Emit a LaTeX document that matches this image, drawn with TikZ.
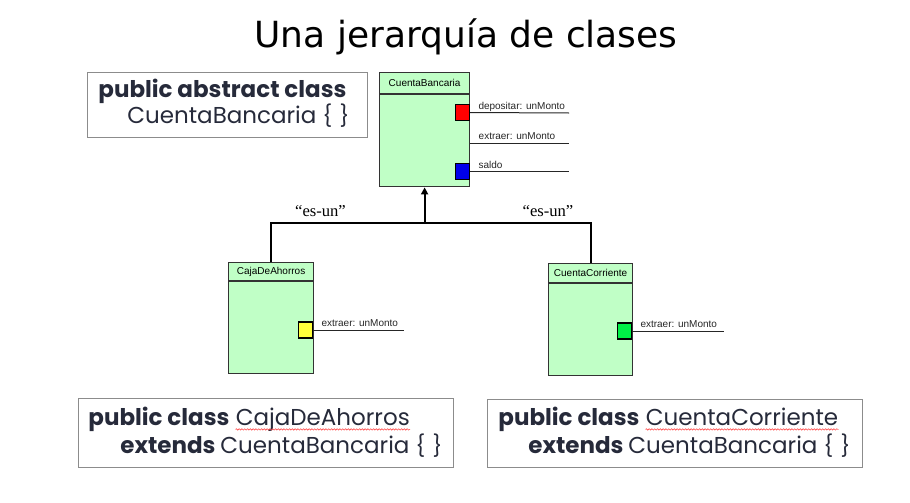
\documentclass[tikz,border=0pt]{standalone}
\usepackage{fontspec}
\setmainfont{Liberation Sans}
\newfontfamily\codefont{Poppins}
\newfontfamily\titlefont{DejaVu Sans}
\newfontfamily\quotefont{Liberation Serif}
\usetikzlibrary{positioning, arrows.meta, decorations.pathmorphing}
\definecolor{umlgreen}{RGB}{192,255,198}
\definecolor{codeink}{RGB}{38,42,58}
\definecolor{boxgray}{RGB}{140,140,140}
\newcommand{\emptybody}{{\fontsize{10.5}{12}\selectfont\{\hspace{0.35em}\}}}
\tikzset{
	umlhead/.style = {draw=black!80, fill=umlgreen, line width=0.6pt, minimum width=#1,
	 minimum height=10pt, inner sep=0, font=\fontsize{5}{6}\selectfont},
	umlbody/.style = {draw=black!80, fill=umlgreen, line width=0.6pt, minimum width=#1,
	 minimum height=46pt, inner sep=0},
	port/.style = {draw=black, line width=0.6pt, minimum width=7pt, minimum height=8pt,
	 inner sep=0, anchor=east},
	portline/.style = {line width=0.5pt, black!85},
	portlbl/.style = {pos=0, anchor=base west, xshift=4pt, yshift=1.6pt, inner sep=0,
	 font=\fontsize{5}{6}\selectfont},
	isa/.style = {line width=0.9pt, black},
	isalbl/.style = {anchor=base, inner sep=0, font=\quotefont\fontsize{8.3}{10}\selectfont},
	codebox/.style = {draw=boxgray, line width=0.7pt, anchor=north west, inner sep=0},
	codetxt/.style = {anchor=base west, inner sep=0, text=codeink,
	 font=\codefont\fontsize{11.5}{14}\selectfont},
	spell/.style = {red!70, line width=0.3pt,
	 decorate, decoration={snake, amplitude=0.35pt, segment length=1.4pt}}
}

\begin{document}
\begin{tikzpicture}[x=0.5pt, y=-0.5pt]
\useasboundingbox (0,0) rectangle (910,503);

% TITLE
\node (title) [anchor=base, inner sep=0, font=\titlefont\fontsize{18}{22}\selectfont] at (466,47) {Una jerarquía de clases};

% CLASSES
% base class
\node (cbhead) [umlhead=45pt, minimum height=10.5pt, anchor=north west] at (379,72) {CuentaBancaria};
\node (cb) [umlbody=45pt, below=0pt of cbhead] {};
\node (cbdep) [port, fill=red] at (470,112.5) {};
\node (cbsal) [port, fill={rgb,255:red,0;green,0;blue,235}] at (470,171.5) {};
\coordinate (cbdepend) at (569,113);
\coordinate (cbextend) at (569,143);
\coordinate (cbsalend) at (569,171.5);
% savings account
\node (cahhead) [umlhead=42.5pt, minimum height=9pt, anchor=north west] at (228,262) {CajaDeAhorros};
\node (cah) [umlbody=42.5pt, below=0pt of cahhead] {};
\node (cahext) [port, fill={rgb,255:red,255;green,255;blue,60}] at (313,330) {};
\coordinate (cahextend) at (404,330);
% current account
\node (cchead) [umlhead=42pt, minimum height=9.5pt, anchor=north west] at (548,263) {CuentaCorriente};
\node (cc) [umlbody=42pt, below=0pt of cchead] {};
\node (ccext) [port, fill={rgb,255:red,0;green,240;blue,70}] at (632,331) {};
\coordinate (ccextend) at (724,331);

% CODE BOXES
\node (cbcode) [codebox, minimum width=140pt, minimum height=32.5pt] at (87,72) {};
\node (cbl1) [codetxt] at (98,97) {\bfseries public abstract class};
\node (cbl2) [codetxt] at (127,123) {CuentaBancaria \emptybody};
\node (cahcode) [codebox, minimum width=187.5pt, minimum height=34.5pt] at (78,398) {};
\node (cahkw) [codetxt] at (88,425) {\bfseries public class};
\node (cahname) [codetxt] at ([xshift=0.28em]cahkw.base east) {CajaDeAhorros};
\node (cahl2) [codetxt] at (120,453) {\bfseries extends \mdseries CuentaBancaria \emptybody};
\node (cccode) [codebox, minimum width=187.5pt, minimum height=34pt] at (487,399) {};
\node (cckw) [codetxt] at (498,425) {\bfseries public class};
\node (ccname) [codetxt] at ([xshift=0.28em]cckw.base east) {CuentaCorriente};
\node (ccl2) [codetxt] at (528,453) {\bfseries extends \mdseries CuentaBancaria \emptybody};

% INHERITANCE
\coordinate (bus) at (0,223);
\node (isal) [isalbl] at (320.5,216) {“es-un”};
\node (isar) [isalbl] at (548,216) {“es-un”};

%CONNECTIONS
\draw [portline] (cbdep.east) -- node [portlbl] {depositar: unMonto} (cbdepend);
\draw [portline] (cb.east |- cbextend) -- node [portlbl] {extraer: unMonto} (cbextend);
\draw [portline] (cbsal.east) -- node [portlbl] {saldo} (cbsalend);
\draw [portline] (cahext.east) -- node [portlbl] {extraer: unMonto} (cahextend);
\draw [portline] (ccext.east) -- node [portlbl] {extraer: unMonto} (ccextend);
\draw [isa, -{Triangle[length=3.5pt, width=3.5pt]}] (cahhead.north) |- (cb.south |- bus) -- (cb.south);
\draw [isa] (cchead.north) |- (cb.south |- bus);
\draw [spell] ([yshift=-2.2pt]cahname.base west) -- ([yshift=-2.2pt]cahname.base east);
\draw [spell] ([yshift=-2.2pt]ccname.base west) -- ([yshift=-2.2pt]ccname.base east);

\end{tikzpicture}
\end{document}
